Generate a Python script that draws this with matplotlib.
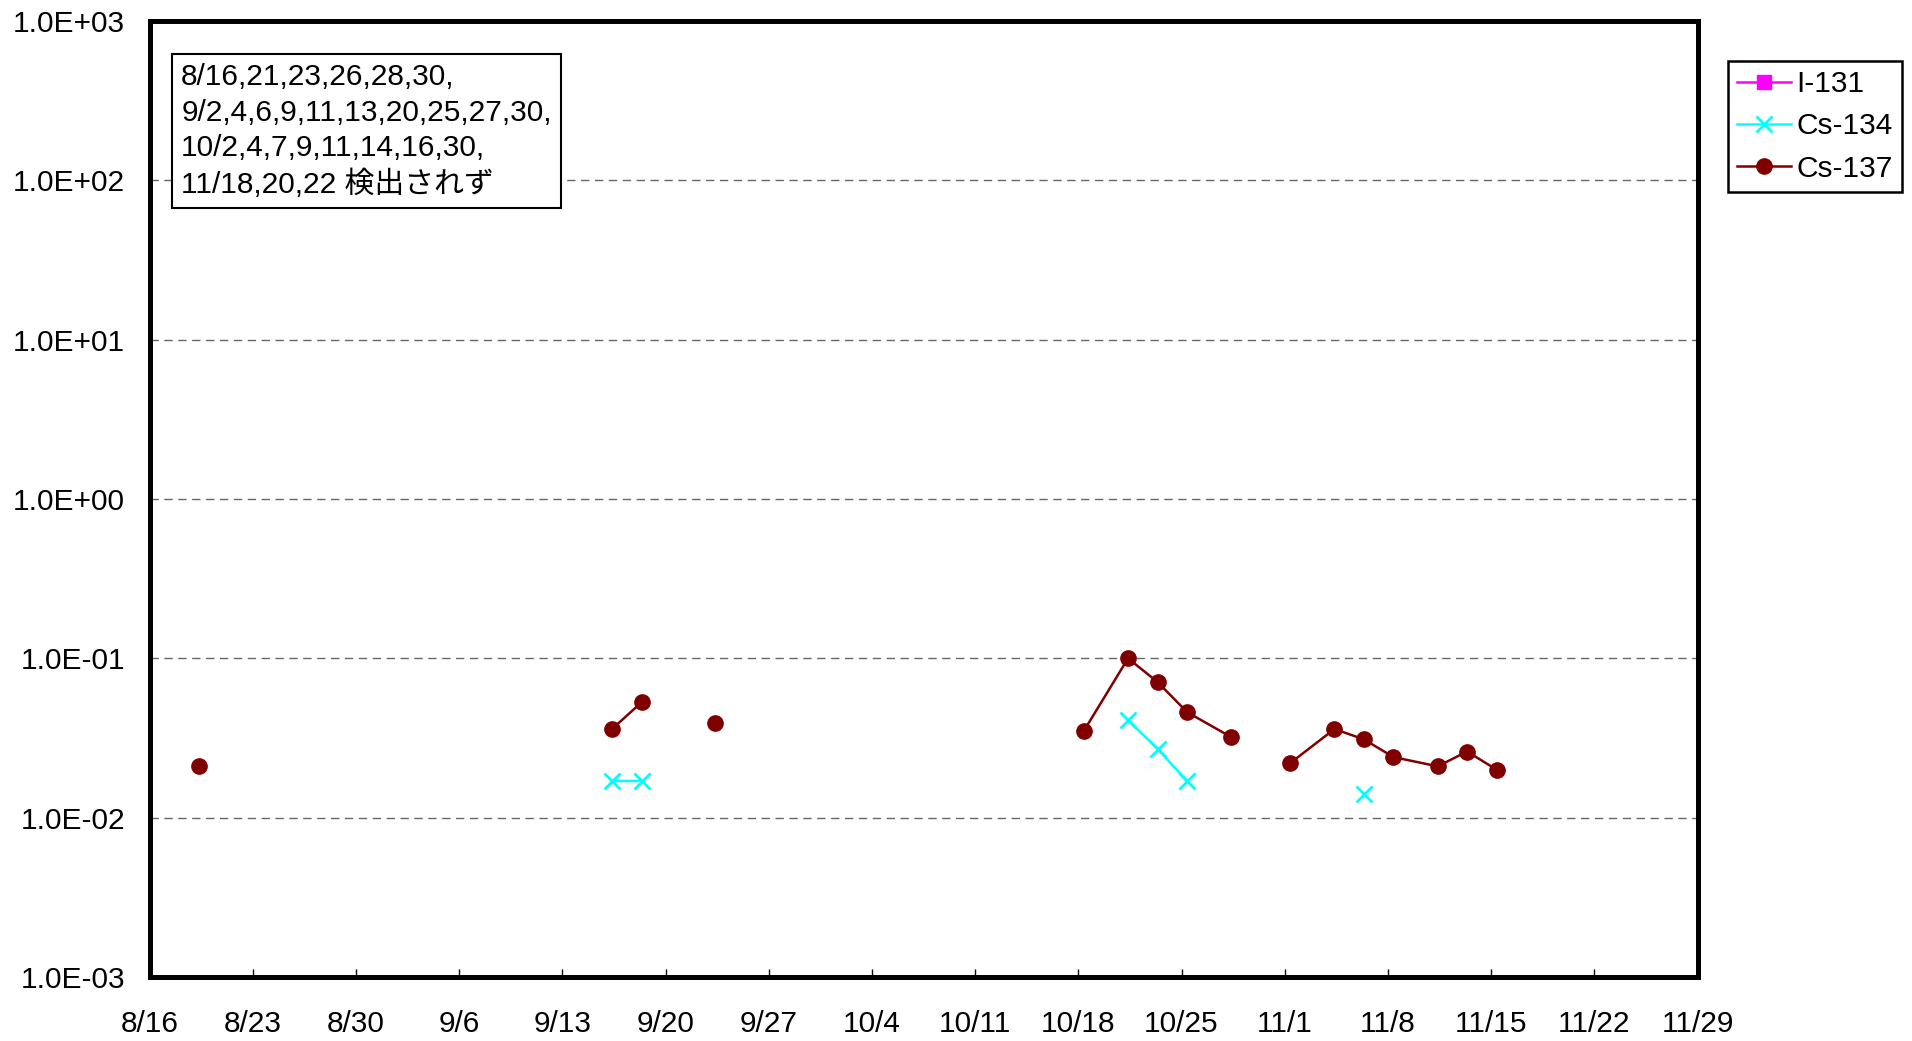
import numpy as np
import pandas as pd
import matplotlib
matplotlib.use("Agg")
import matplotlib.pyplot as plt
from matplotlib.lines import Line2D

plt.rcParams["font.family"] = ["Liberation Sans", "Noto Sans CJK JP", "DejaVu Sans"]

# ===================== Data =====================
YEAR = 2011
SAMPLE_HOUR = 9  # samples taken in the morning

# NaN = not detected (breaks the line)
cs137_dates = ["8/19", "8/21", "9/16", "9/18", "9/20", "9/23", "10/16", "10/18", "10/21",
               "10/23", "10/25", "10/28", "10/30", "11/1", "11/4", "11/6", "11/8",
               "11/11", "11/13", "11/15"]
cs137_vals = [0.021, np.nan, 0.036, 0.053, np.nan, 0.039, np.nan, 0.035, 0.10,
              0.071, 0.046, 0.032, np.nan, 0.022, 0.036, 0.031, 0.024,
              0.021, 0.026, 0.020]

cs134_dates = ["9/16", "9/18", "9/20", "10/21", "10/23", "10/25", "10/30", "11/6"]
cs134_vals = [0.017, 0.017, np.nan, 0.041, 0.027, 0.017, np.nan, 0.014]

i131_dates = []
i131_vals = []

x_start, x_end = "8/16", "11/29"
tick_step_days = 7

note_text = ("8/16,21,23,26,28,30,\n"
             "9/2,4,6,9,11,13,20,25,27,30,\n"
             "10/2,4,7,9,11,14,16,30,\n"
             "11/18,20,22 検出されず")

FS = 21.5


def to_dt(md_list, hour=SAMPLE_HOUR):
    return [pd.Timestamp(f"{YEAR}/{md}") + pd.Timedelta(hours=hour) for md in md_list]


# ===================== Plot =====================
W, H = 1912, 1041
fig = plt.figure(figsize=(W / 100, H / 100), dpi=100)
ax = fig.add_axes([149.5 / W, 1 - 977 / H, (1697.5 - 149.5) / W, (977 - 21) / H])

ax.plot(to_dt(i131_dates), i131_vals, color="#FF00FF", marker="s", ms=10, lw=1.8)
ax.plot(to_dt(cs134_dates), cs134_vals, color="#00FFFF", marker="x", ms=11, mew=2, lw=1.8)
ax.plot(to_dt(cs137_dates), cs137_vals, color="#800000", marker="o", ms=11, lw=1.8)

ax.set_yscale("log")
ax.set_ylim(1e-3, 1e3)
ax.yaxis.set_major_locator(matplotlib.ticker.LogLocator(base=10, numticks=10))
ax.yaxis.set_minor_locator(matplotlib.ticker.NullLocator())
ax.yaxis.set_major_formatter(matplotlib.ticker.FuncFormatter(lambda v, p: f"{v:.1E}"))

t0 = pd.Timestamp(f"{YEAR}/{x_start}")
t1 = pd.Timestamp(f"{YEAR}/{x_end}")
ax.set_xlim(t0, t1)
ticks = pd.date_range(t0, t1, freq=f"{tick_step_days}D")
ax.set_xticks(ticks)
ax.set_xticklabels([f"{d.month}/{d.day}" for d in ticks])

ax.tick_params(axis="x", direction="in", length=6, width=1, pad=24, labelsize=FS)
ax.tick_params(axis="y", length=0, pad=17.5, labelsize=FS)

ax.grid(True, axis="y", which="major", color="#666666", lw=1, linestyle=(0, (6, 4)))
for s in ax.spines.values():
    s.set_linewidth(3.6)
    s.set_color("black")

# note box
ax.text(0.0205, 0.9557, note_text, transform=ax.transAxes, ha="left", va="top",
        fontsize=FS, linespacing=1.33,
        bbox=dict(boxstyle="square,pad=0.3", fc="white", ec="black", lw=1.5))

# legend
handles = [
    Line2D([], [], color="#FF00FF", marker="s", ms=10, lw=1.8),
    Line2D([], [], color="#00FFFF", marker="x", ms=11, mew=2, lw=1.8),
    Line2D([], [], color="#800000", marker="o", ms=11, lw=1.8),
]
fig.legend(handles, ["I-131", "Cs-134", "Cs-137"], loc="upper left",
           bbox_to_anchor=(1728 / W, 1 - 61 / H), borderaxespad=0,
           fontsize=FS, frameon=True, fancybox=False, edgecolor="black",
           framealpha=1, handlelength=1.8, handletextpad=0.2, labelspacing=0.48,
           borderpad=0.3).get_frame().set_linewidth(1.8)

fig.savefig("out.png", dpi=100)
